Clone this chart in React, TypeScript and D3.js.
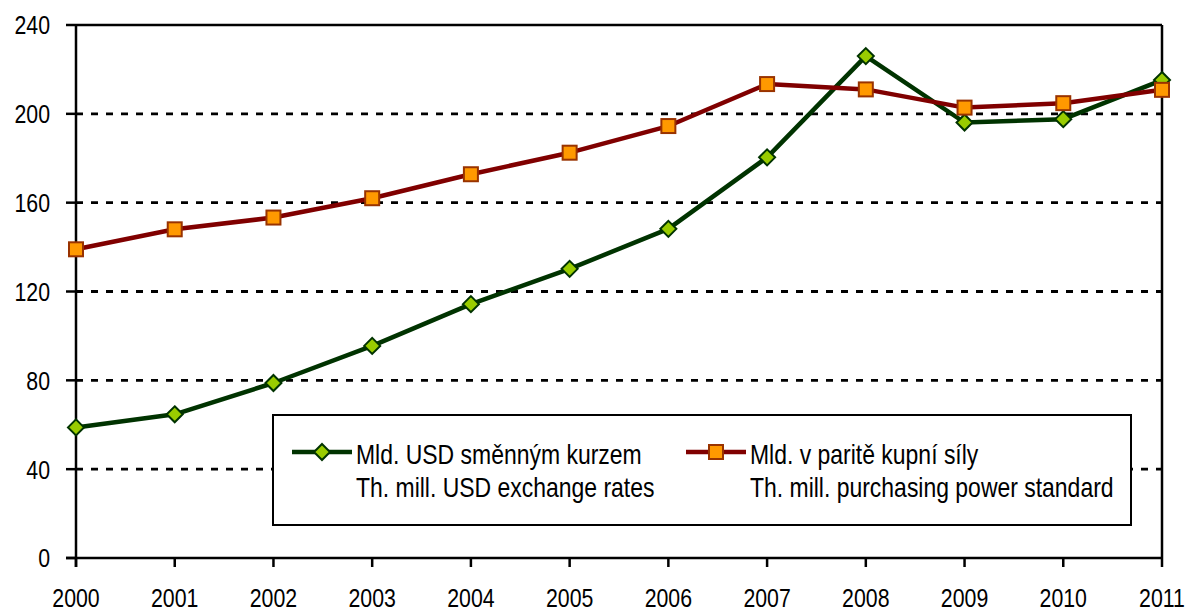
import React from 'react';
import * as d3 from 'd3';

const years = [2000, 2001, 2002, 2003, 2004, 2005, 2006, 2007, 2008, 2009, 2010, 2011];
const exchangeRates = [58.8, 64.7, 78.8, 95.5, 114.3, 130.2, 148.2, 180.4, 226.0, 196.1, 197.6, 215.2];
const purchasingPower = [139.0, 148.0, 153.3, 162.0, 172.8, 182.5, 194.5, 213.4, 211.0, 202.8, 204.8, 210.8];
const yTicks = [0, 40, 80, 120, 160, 200, 240];
const legendCz = ['Mld. USD směnným kurzem', 'Mld. v paritě kupní síly'];
const legendEn = ['Th. mill. USD exchange rates', 'Th. mill. purchasing power standard'];

const W = 1188;
const H = 612;
const margin = { top: 25, right: 26, bottom: 54, left: 76 };
const FONT = '"Liberation Sans", Arial, sans-serif';
const NARROW = 0.82; // no narrow font installed, squeeze Liberation Sans instead

const GREEN_LINE = '#003300';
const GREEN_FILL = '#99cc00';
const RED_LINE = '#800000';
const ORANGE_FILL = '#ff9900';
const ORANGE_STROKE = '#993300';

type TextProps = { x: number; y: number; anchor?: string; dy?: string; size?: number; children: React.ReactNode };

const NText = ({ x, y, anchor = 'start', dy, size = 26, children }: TextProps) => (
  <text
    transform={`translate(${x},${y}) scale(${NARROW},1)`}
    dy={dy}
    textAnchor={anchor}
    fontSize={size}
    fill="#000"
  >
    {children}
  </text>
);

const Diamond = ({ x, y }: { x: number; y: number }) => (
  <path
    d={`M${x},${y - 8}L${x + 8},${y}L${x},${y + 8}L${x - 8},${y}Z`}
    fill={GREEN_FILL}
    stroke={GREEN_LINE}
    strokeWidth={2}
  />
);

const Square = ({ x, y }: { x: number; y: number }) => (
  <rect x={x - 7} y={y - 7} width={14} height={14} fill={ORANGE_FILL} stroke={ORANGE_STROKE} strokeWidth={2} />
);

const App: React.FC = () => {
  const x = d3
    .scaleLinear()
    .domain([years[0], years[years.length - 1]])
    .range([margin.left, W - margin.right]);
  const y = d3
    .scaleLinear()
    .domain([0, 240])
    .range([H - margin.bottom, margin.top]);

  const line = d3
    .line<number>()
    .x((_, i) => x(years[i]))
    .y((d) => y(d));

  const x0 = x.range()[0];
  const x1 = x.range()[1];
  const yBottom = y(0);
  const yTop = y(240);

  // legend box
  const lg = { x: 273, y: 415, w: 858, h: 110 };
  const items = [
    { sx: 292, tx: 356, marker: 'diamond', color: GREEN_LINE },
    { sx: 686, tx: 750, marker: 'square', color: RED_LINE },
  ];

  return (
    <svg
      width={W}
      height={H}
      style={{ position: 'absolute', left: 0, top: 0, background: '#fff' }}
      fontFamily={FONT}
    >
      {/* gridlines */}
      {yTicks
        .filter((t) => t > 0 && t < 240)
        .map((t) => (
          <line
            key={t}
            x1={x0}
            x2={x1}
            y1={y(t)}
            y2={y(t)}
            stroke="#000"
            strokeWidth={2.8}
            strokeDasharray="7 8"
          />
        ))}

      {/* plot frame */}
      <line x1={x0} x2={x1} y1={yTop} y2={yTop} stroke="#000" strokeWidth={2.5} />
      <line x1={x1} x2={x1} y1={yTop} y2={yBottom} stroke="#000" strokeWidth={2.5} />
      <line x1={x0} x2={x0} y1={yTop} y2={yBottom + 9} stroke="#000" strokeWidth={2.5} />
      <line x1={x0 - 10} x2={x1} y1={yBottom} y2={yBottom} stroke="#000" strokeWidth={2.5} />

      {/* y ticks */}
      {yTicks.map((t) => (
        <g key={t}>
          <line x1={x0 - 10} x2={x0} y1={y(t)} y2={y(t)} stroke="#000" strokeWidth={2.5} />
          <NText x={x0 - 26} y={y(t)} dy="0.36em" anchor="end">
            {t}
          </NText>
        </g>
      ))}

      {/* x ticks */}
      {years.map((yr) => (
        <g key={yr}>
          <line x1={x(yr)} x2={x(yr)} y1={yBottom} y2={yBottom + 9} stroke="#000" strokeWidth={2.5} />
          <NText x={x(yr)} y={607} anchor="middle">
            {yr}
          </NText>
        </g>
      ))}

      {/* series */}
      <path d={line(exchangeRates) || ''} fill="none" stroke={GREEN_LINE} strokeWidth={4.5} strokeLinejoin="round" />
      {exchangeRates.map((v, i) => (
        <Diamond key={i} x={x(years[i])} y={y(v)} />
      ))}
      <path d={line(purchasingPower) || ''} fill="none" stroke={RED_LINE} strokeWidth={4.5} strokeLinejoin="round" />
      {purchasingPower.map((v, i) => (
        <Square key={i} x={x(years[i])} y={y(v)} />
      ))}

      {/* legend */}
      <rect x={lg.x} y={lg.y} width={lg.w} height={lg.h} fill="#fff" stroke="#000" strokeWidth={2} />
      {items.map((it, i) => (
        <g key={i}>
          <line x1={it.sx} x2={it.sx + 60} y1={452} y2={452} stroke={it.color} strokeWidth={4.5} />
          {it.marker === 'diamond' ? <Diamond x={it.sx + 30} y={452} /> : <Square x={it.sx + 30} y={452} />}
          <NText x={it.tx} y={464} size={28}>
            {legendCz[i]}
          </NText>
          <NText x={it.tx} y={497} size={28}>
            {legendEn[i]}
          </NText>
        </g>
      ))}
    </svg>
  );
};

export default App;
